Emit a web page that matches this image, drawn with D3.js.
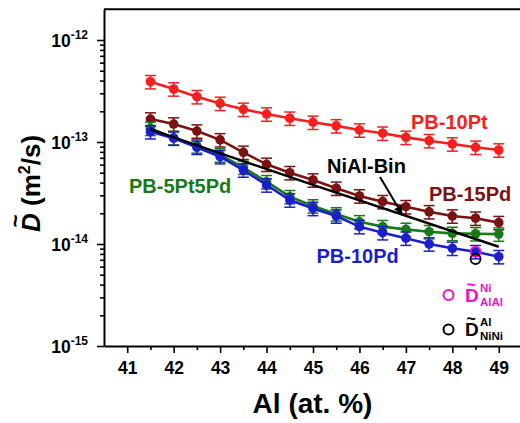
<!DOCTYPE html>
<html><head><meta charset="utf-8">
<script src="https://cdn.jsdelivr.net/npm/d3@7"></script>
<style>
body{margin:0;background:#fff}
svg{display:block}
text{font-family:"Liberation Sans",Arial,sans-serif;font-weight:bold}
</style>
</head><body><svg id="c" width="520" height="423"></svg>
<script>
// ---- data ----
const alContent = [41.5,42,42.5,43,43.5,44,44.5,45,45.5,46,46.5,47,47.5,48,48.5,49];
const pb10Pt   = [3.90e-13,3.31e-13,2.78e-13,2.39e-13,2.09e-13,1.88e-13,1.71e-13,1.56e-13,1.44e-13,1.31e-13,1.22e-13,1.11e-13,1.03e-13,9.56e-14,8.87e-14,8.35e-14];
const pb15Pd   = [1.68e-13,1.50e-13,1.28e-13,1.05e-13,7.92e-14,6.04e-14,5.00e-14,4.24e-14,3.52e-14,2.96e-14,2.60e-14,2.32e-14,2.07e-14,1.88e-14,1.79e-14,1.62e-14];
const pb5Pt5Pd = [1.36e-13,1.10e-13,9.14e-14,7.46e-14,5.65e-14,4.08e-14,2.91e-14,2.36e-14,1.97e-14,1.65e-14,1.48e-14,1.39e-14,1.32e-14,1.27e-14,1.26e-14,1.25e-14];
const pb10Pd   = [1.26e-13,1.09e-13,8.87e-14,7.18e-14,5.31e-14,3.79e-14,2.70e-14,2.23e-14,1.88e-14,1.48e-14,1.29e-14,1.14e-14,1.00e-14,9.07e-15,8.41e-15,7.51e-15];
const nialBinAl = [41.5,45,49];
const nialBin   = [1.33e-13,3.79e-14,9.4e-15];
const relError = 0.15;
const interAl  = [48.5];
const dAlAlNi  = [8.41e-15];
const dNiNiAl  = [7.13e-15];
const xTicks = [41,42,43,44,45,46,47,48,49];
const xMinorTicks = [41.5,42.5,43.5,44.5,45.5,46.5,47.5,48.5];
const yTicks = [1e-15,1e-14,1e-13,1e-12];
const yTickExp = ["-15","-14","-13","-12"];

// ---- setup ----
const svg = d3.select("#c");
const x = d3.scaleLinear().domain([40.5,49.5]).range([104,522]);
const y = d3.scaleLog().domain([1e-15,2e-12]).range([346,9.3]);

const series = [
  {name:"PB-10Pt", vals:pb10Pt, color:"#f51f1f", lx:411, ly:129},
  {name:"PB-15Pd", vals:pb15Pd, color:"#7a1212", lx:429, ly:200.5},
  {name:"PB-5Pt5Pd", vals:pb5Pt5Pd, color:"#187a18", lx:129, ly:192.5},
  {name:"PB-10Pd", vals:pb10Pd, color:"#1d1dd0", lx:316.5, ly:263}
];

// axes
const minorY = [];
for (let e=-15;e<=-13;e++) for (let k=2;k<=9;k++) minorY.push(k*Math.pow(10,e));

const gx = svg.append("g").attr("transform","translate(0,346)");
gx.call(d3.axisBottom(x).tickValues(xTicks).tickSize(7).tickSizeOuter(0).tickFormat(d3.format("d")));
gx.selectAll("text").attr("dy",0).attr("y",28).style("font-size","17.5px").attr("fill","#000");
gx.append("g").call(d3.axisBottom(x).tickValues(xMinorTicks).tickSize(4).tickSizeOuter(0).tickFormat(""))
  .select(".domain").remove();
const gy = svg.append("g").attr("transform","translate(104,0)");
gy.call(d3.axisLeft(y).tickValues(yTicks).tickSize(7).tickSizeOuter(0).tickFormat(""));
gy.append("g").call(d3.axisLeft(y).tickValues(minorY).tickSize(4).tickSizeOuter(0).tickFormat(""))
  .select(".domain").remove();
svg.selectAll(".domain").attr("stroke-width",2);
svg.selectAll(".tick line").attr("stroke-width",1.6);
// top frame
svg.append("line").attr("x1",x.range()[0]).attr("x2",x.range()[1]).attr("y1",y.range()[1]).attr("y2",y.range()[1])
  .attr("stroke","#000").attr("stroke-width",2);

// y tick labels
yTicks.forEach((v,i)=>{
  const t = svg.append("text").attr("x",88).attr("y",y(v)+7).attr("text-anchor","end").style("font-size","17.5px");
  t.append("tspan").text("10");
  t.append("tspan").attr("dy",-8).style("font-size","12px").text(yTickExp[i]);
});

// axis titles
svg.append("text").attr("x",312.5).attr("y",413).attr("text-anchor","middle").style("font-size","28px").text("Al (at. %)");
const yt = svg.append("g").attr("transform","translate(40,0) rotate(-90)");
const ytxt = yt.append("text").attr("x",-232).attr("y",0).style("font-size","26px");
ytxt.append("tspan").style("font-style","italic").text("D");
ytxt.append("tspan").attr("dx",-14).attr("dy",-17).style("font-size","22px").text("~");
ytxt.append("tspan").attr("x",-213.2).attr("y",0).text(" (m");
ytxt.append("tspan").attr("dy",-10).style("font-size","16px").text("2");
ytxt.append("tspan").attr("dy",10).text("/s)");

// series
const line = d3.line().x((d,i)=>x(alContent[i])).y(d=>y(d));
series.forEach(s=>{
  const g = svg.append("g");
  g.append("path").datum(s.vals).attr("d",line).attr("fill","none").attr("stroke",s.color).attr("stroke-width",2.6);
  const eb = g.selectAll(".eb").data(s.vals).enter().append("g").attr("stroke",s.color).attr("stroke-width",1.5);
  eb.append("line").attr("x1",(d,i)=>x(alContent[i])).attr("x2",(d,i)=>x(alContent[i]))
    .attr("y1",d=>y(d*(1+relError))).attr("y2",d=>y(d*(1-relError)));
  eb.append("line").attr("x1",(d,i)=>x(alContent[i])-5.5).attr("x2",(d,i)=>x(alContent[i])+5.5)
    .attr("y1",d=>y(d*(1+relError))).attr("y2",d=>y(d*(1+relError)));
  eb.append("line").attr("x1",(d,i)=>x(alContent[i])-5.5).attr("x2",(d,i)=>x(alContent[i])+5.5)
    .attr("y1",d=>y(d*(1-relError))).attr("y2",d=>y(d*(1-relError)));
  g.selectAll("circle").data(s.vals).enter().append("circle")
    .attr("cx",(d,i)=>x(alContent[i])).attr("cy",d=>y(d)).attr("r",4.8).attr("fill",s.color);
  svg.append("text").attr("x",s.lx).attr("y",s.ly).attr("fill",s.color).style("font-size","20px").text(s.name);
});

// NiAl-Bin
const bline = d3.line().x((d,i)=>x(nialBinAl[i])).y(d=>y(d));
svg.append("path").datum(nialBin).attr("d",bline).attr("fill","none").attr("stroke","#000").attr("stroke-width",2.4);
svg.append("text").attr("x",327).attr("y",173).style("font-size","20px").attr("fill","#000").text("NiAl-Bin");
svg.append("defs").append("marker").attr("id","ah").attr("viewBox","0 0 10 10").attr("refX",9).attr("refY",5)
  .attr("markerWidth",9).attr("markerHeight",9).attr("markerUnits","userSpaceOnUse").attr("orient","auto")
  .append("path").attr("d","M0,0L10,5L0,10z").attr("fill","#000");
svg.append("line").attr("x1",380).attr("y1",177).attr("x2",402).attr("y2",214)
  .attr("stroke","#000").attr("stroke-width",2).attr("marker-end","url(#ah)");

// interdiffusion open circles
svg.selectAll(".oa").data(dAlAlNi).enter().append("circle").attr("cx",(d,i)=>x(interAl[i])).attr("cy",d=>y(d))
  .attr("r",5).attr("fill","none").attr("stroke","#ee11cc").attr("stroke-width",2);
svg.selectAll(".ob").data(dNiNiAl).enter().append("circle").attr("cx",(d,i)=>x(interAl[i])).attr("cy",d=>y(d))
  .attr("r",5).attr("fill","none").attr("stroke","#000").attr("stroke-width",1.8);

// legend
const legend = [
  {color:"#ee11cc", sup:"Ni", sub:"AlAl", cy:295, base:302},
  {color:"#000", sup:"Al", sub:"NiNi", cy:329.5, base:336}
];
legend.forEach(l=>{
  svg.append("circle").attr("cx",448.5).attr("cy",l.cy).attr("r",5).attr("fill","none").attr("stroke",l.color).attr("stroke-width",2);
  const t = svg.append("text").attr("x",465).attr("y",l.base).attr("fill",l.color).style("font-size","19px");
  t.append("tspan").text("D");
  t.append("tspan").attr("x",466.5).attr("y",l.base-12).style("font-size","16px").text("~");
  t.append("tspan").attr("x",480).attr("y",l.base-10).style("font-size","11.5px").text(l.sup);
  t.append("tspan").attr("x",480).attr("y",l.base+3.5).style("font-size","11.5px").text(l.sub);
});
</script></body></html>
